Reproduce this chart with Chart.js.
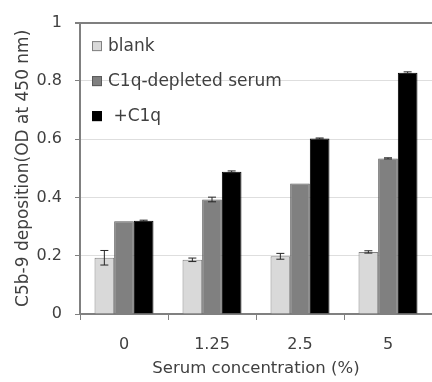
<!DOCTYPE html>
<html>
<head>
<meta charset="utf-8">
<script src="https://cdn.jsdelivr.net/npm/chart.js@4"></script>
<style>
  html, body { margin: 0; padding: 0; background: #fff; }
  #wrap { width: 432px; height: 382px; }
</style>
</head>
<body>
<div id="wrap"><canvas id="myChart"></canvas></div>
<script>
	// data
	var categories = ['0', '1.25', '2.5', '5'];
	var seriesNames = ['blank', 'C1q-depleted serum', ' +C1q'];
	var blank = [0.193, 0.186, 0.198, 0.213];
	var blankErr = [0.025, 0.006, 0.010, 0.004];
	var depleted = [0.318, 0.393, 0.448, 0.534];
	var depletedErr = [0, 0.008, 0, 0.002];
	var plusC1q = [0.320, 0.488, 0.602, 0.828];
	var plusC1qErr = [0.002, 0.003, 0.002, 0.003];
	var yTicks = [0, 0.2, 0.4, 0.6, 0.8, 1];

	var textColor = '#404040';
	var font = 'DejaVu Sans';

	// error bars drawn through the scales
	var errorBars = {
		id: 'errorBars',
		afterDatasetsDraw: function(chart){
			var ctx = chart.ctx;
			var y = chart.scales.y;
			ctx.save();
			ctx.strokeStyle = '#262626';
			ctx.lineWidth = 1;
			chart.data.datasets.forEach(function(ds, i){
				var meta = chart.getDatasetMeta(i);
				meta.data.forEach(function(bar, j){
					var e = ds.errors[j];
					if (!e) return;
					var v = ds.data[j];
					var top = y.getPixelForValue(v + e);
					var bot = y.getPixelForValue(v - e);
					ctx.beginPath();
					ctx.moveTo(bar.x, top); ctx.lineTo(bar.x, bot);
					ctx.moveTo(bar.x - 4, top); ctx.lineTo(bar.x + 4, top);
					ctx.moveTo(bar.x - 4, bot); ctx.lineTo(bar.x + 4, bot);
					ctx.stroke();
				});
			});
			ctx.restore();
		}
	};

	// legend sits inside the plot, top left
	var innerLegend = {
		id: 'innerLegend',
		afterDraw: function(chart){
			var ctx = chart.ctx;
			var area = chart.chartArea;
			ctx.save();
			ctx.font = '17px "' + font + '"';
			ctx.textBaseline = 'middle';
			chart.data.datasets.forEach(function(ds, i){
				var cy = area.top + 23.5 + i * 35;
				var bx = area.left + 12;
				ctx.fillStyle = ds.backgroundColor;
				ctx.strokeStyle = ds.borderColor;
				ctx.lineWidth = 1;
				ctx.fillRect(bx, cy - 5, 10, 10);
				ctx.strokeRect(bx + 0.5, cy - 4.5, 9, 9);
				ctx.fillStyle = textColor;
				ctx.fillText(ds.label, bx + 16, cy);
			});
			ctx.restore();
		}
	};

	var ctx = document.getElementById('myChart').getContext('2d');
	var myChart = new Chart(ctx, {
		type: 'bar',
		data: {
			labels: categories,
			datasets: [{
				label: seriesNames[0],
				data: blank,
				errors: blankErr,
				backgroundColor: '#d9d9d9',
				borderColor: '#808080',
				borderWidth: 1
			}, {
				label: seriesNames[1],
				data: depleted,
				errors: depletedErr,
				backgroundColor: '#808080',
				borderColor: '#595959',
				borderWidth: 1
			}, {
				label: seriesNames[2],
				data: plusC1q,
				errors: plusC1qErr,
				backgroundColor: '#000000',
				borderColor: '#000000',
				borderWidth: 1
			}]
		},
		options: {
			responsive: true,
			maintainAspectRatio: false,
			animation: false,
			layout: { padding: { top: 22, right: 0, left: 0, bottom: 0 } },
			datasets: { bar: { categoryPercentage: 0.67, barPercentage: 1 } },
			plugins: { legend: { display: false }, tooltip: { enabled: false } },
			scales: {
				x: {
					grid: { offset: true, drawOnChartArea: false, tickLength: 6, color: '#808080' },
					border: { color: '#808080', width: 2 },
					ticks: { color: textColor, font: { family: font, size: 16 }, padding: 15 },
					title: { display: true, text: 'Serum concentration (%)', color: textColor,
						font: { family: font, size: 16.5 }, padding: { top: 0, bottom: 3 } },
					afterFit: function(scale){ scale.height = 68; }
				},
				y: {
					min: 0, max: 1,
					afterBuildTicks: function(scale){
						scale.ticks = yTicks.map(function(v){ return { value: v }; });
					},
					grid: {
						color: function(c){ return c.tick && c.tick.value === 1 ? '#7f7f7f' : '#dedede'; },
						lineWidth: function(c){ return c.tick && c.tick.value === 1 ? 2 : 1; },
						tickColor: '#808080',
						tickLength: 5
					},
					border: { color: '#808080', width: 2 },
					ticks: { color: textColor, font: { family: font, size: 16 }, padding: 13,
						callback: function(v){ return String(v); } },
					title: { display: true, text: 'C5b-9 deposition(OD at 450 nm)', color: textColor,
						font: { family: font, size: 17 }, padding: { top: 13, bottom: 0 } },
					afterFit: function(scale){ scale.width = 80; }
				}
			}
		},
		plugins: [errorBars, innerLegend]
	});
</script>
</body>
</html>
